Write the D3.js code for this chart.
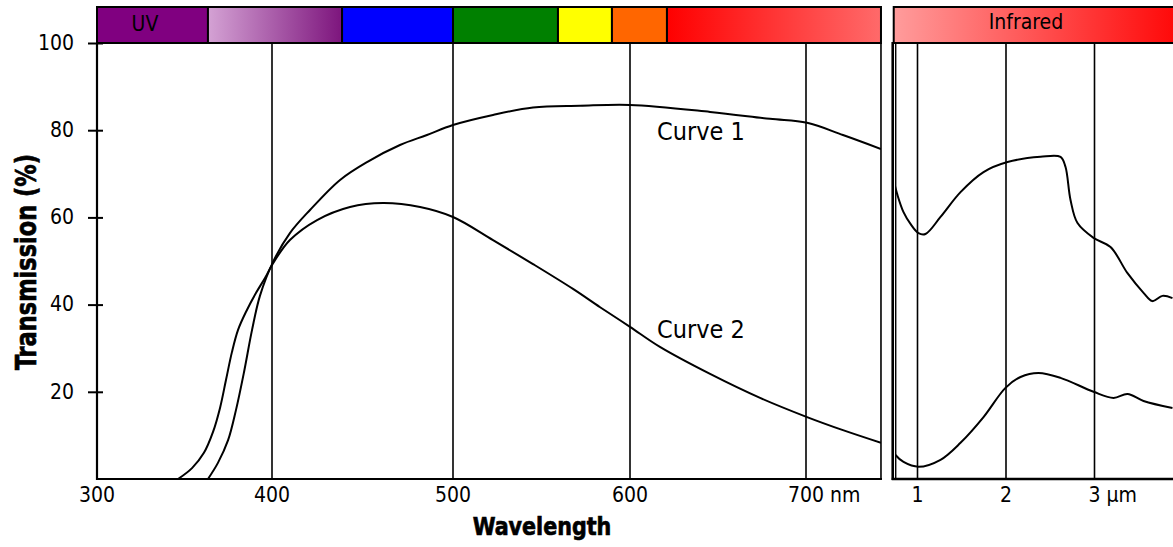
<!DOCTYPE html>
<html>
<head>
<meta charset="utf-8">
<script src="https://cdn.jsdelivr.net/npm/d3@7"></script>
<style>
  html, body { margin: 0; padding: 0; background: #fff; overflow: hidden; }
  svg { display: block; font-family: "DejaVu Sans Condensed", "DejaVu Sans", sans-serif; }
</style>
</head>
<body>
<svg id="chart" width="1173" height="547"></svg>
<script>
// ---- Visible range (nm) ----
const visWavelength = [363.4, 369.1, 374.9, 379.4, 384, 388.6, 393.1, 400.6, 409.9, 421, 437.6, 452.5, 470.7, 485.6, 500, 522.6, 545.2, 571.8, 600, 645.5, 679.5, 700.6, 721, 742.6];
const curve1Vis = [0, 3.7, 8.9, 15.8, 24.5, 34.2, 42.0, 49.8, 56.4, 61.7, 68.6, 72.7, 76.6, 78.9, 81.2, 83.5, 85.2, 85.6, 85.8, 84.2, 82.6, 81.7, 78.9, 75.7];

const visWavelength2 = [346.3, 354.3, 361.1, 366.3, 370.3, 373.7, 377.1, 380.6, 385.1, 390.9, 396, 400.6, 409.9, 424.9, 443.1, 461.3, 481.8, 500, 522.6, 545.2, 567.8, 583.1, 600, 617, 645.5, 673.9, 700.6, 721, 742.6];
const curve2Vis = [0, 2.5, 6.0, 10.8, 16.3, 22.7, 29.1, 34.2, 38.3, 42.7, 46.1, 49.5, 54.8, 59.4, 62.4, 63.3, 62.4, 60.1, 54.8, 49.3, 43.6, 39.4, 34.9, 30.3, 24.1, 18.6, 14.2, 11.2, 8.3];

// ---- Infrared range (µm) ----
const irWavelength1 = [0.729, 0.774, 0.842, 0.921, 1.011, 1.09, 1.26, 1.486, 1.746, 2.017, 2.39, 2.616, 2.672, 2.729, 2.808, 2.989, 3.181, 3.373, 3.554, 3.655, 3.768, 3.881];
const curve1IR = [68.6, 65.1, 61.2, 58.5, 56.4, 56.2, 60.1, 65.8, 70.4, 72.7, 73.9, 73.9, 71.6, 64.0, 58.7, 55.3, 53.2, 47.2, 42.7, 40.8, 42.0, 41.5];

const irWavelength2 = [0.72, 0.751, 0.842, 1.011, 1.26, 1.486, 1.746, 1.994, 2.164, 2.367, 2.616, 2.989, 3.215, 3.373, 3.554, 3.881];
const curve2IR = [6.5, 5.5, 3.9, 2.8, 4.4, 8.3, 14.2, 20.9, 23.4, 24.3, 23.2, 20.0, 18.6, 19.5, 17.9, 16.3];

// ---- Spectrum bands ----
const bandStart = [300, 363.4, 438.7, 500, 559.3, 589.8, 621];
const bandEnd   = [363.4, 438.7, 500, 559.3, 589.8, 621, 742.6];
const bandFill  = ["#800080", "url(#gViolet)", "#0000ff", "#008000", "#ffff00", "#ff6600", "url(#gRed)"];
const bandLabel = ["UV", "", "", "", "", "", ""];
const irBand = [0.72, 4.1];
const irBandLabel = "Infrared";

// ---- Ticks ----
const visTicks = [300, 400, 500, 600, 700];
const visTickUnit = ["", "", "", "", " nm"];
const visGrid = [400, 500, 600, 700];
const irTicks = [1, 2, 3];
const irTickUnit = ["", "", " µm"];
const yTicks = [20, 40, 60, 80, 100];
const curveNames = ["Curve 1", "Curve 2"];
const curveLabelAt = [[657, 77.8], [657, 32.3]];

const svg = d3.select("#chart");

const y = d3.scaleLinear().domain([0, 100]).range([479, 43]);
const xVis = d3.scaleLinear().domain([300, 400, 500, 600, 700]).range([97, 272, 453, 630, 806]);
const visEnd = 742.6;
const xIR = d3.scaleLinear().domain([1, 3]).range([917.5, 1094.5]);

// gradients
const defs = svg.append("defs");
function grad(id, c0, c1) {
  const g = defs.append("linearGradient").attr("id", id).attr("x1", "0").attr("x2", "1").attr("y1", "0").attr("y2", "0");
  g.append("stop").attr("offset", "0").attr("stop-color", c0);
  g.append("stop").attr("offset", "1").attr("stop-color", c1);
}
grad("gViolet", "#d4a2d4", "#7d157d");
grad("gRed", "#ff0000", "#ff6a6a");
grad("gIR", "#ff9c9c", "#ff0000");

defs.append("clipPath").attr("id", "clipVis").append("rect")
  .attr("x", xVis(300)).attr("y", 43).attr("width", xVis(visEnd) - xVis(300)).attr("height", 436);
defs.append("clipPath").attr("id", "clipIR").append("rect")
  .attr("x", xIR(irBand[0]) + 3).attr("y", 43).attr("width", 400).attr("height", 436);

const barTop = 7, barBottom = 43;

// ---- visible panel ----
// vertical grid lines
svg.append("g").selectAll("line").data(visGrid).join("line")
  .attr("x1", d => xVis(d)).attr("x2", d => xVis(d))
  .attr("y1", y(100)).attr("y2", y(0))
  .attr("stroke", "#000").attr("stroke-width", 1.6);

// right edge of the visible panel
svg.append("line")
  .attr("x1", xVis(visEnd)).attr("x2", xVis(visEnd))
  .attr("y1", y(100)).attr("y2", y(0))
  .attr("stroke", "#000").attr("stroke-width", 1.6);

// y axis
const yAxis = d3.axisLeft(y).tickValues(yTicks).tickSize(0).tickPadding(0);
const yg = svg.append("g").attr("transform", `translate(${xVis(300)},0)`).call(yAxis);
yg.select(".domain").remove();
yg.selectAll(".tick text").remove();
yg.selectAll(".tick").append("line").attr("x1", -9).attr("x2", 6).attr("stroke", "#000").attr("stroke-width", 2);
yg.selectAll(".tick").append("text")
  .attr("x", -23).attr("dy", "0.3em")
  .attr("text-anchor", "end").attr("fill", "#000")
  .style("font-size", "21px").style("font-family", "'DejaVu Sans Condensed', 'DejaVu Sans', sans-serif")
  .text(d => d);

svg.append("line").attr("x1", xVis(300)).attr("x2", xVis(300)).attr("y1", y(100)).attr("y2", y(0) + 1)
  .attr("stroke", "#000").attr("stroke-width", 2.2);
svg.append("line").attr("x1", xVis(300) - 1).attr("x2", xVis(visEnd) + 1).attr("y1", y(0)).attr("y2", y(0))
  .attr("stroke", "#000").attr("stroke-width", 2.2);

// x tick labels: the number is centred on its tick, any unit trails after it
function tickLabels(scale, values, units) {
  values.forEach((v, i) => {
    const t = svg.append("text")
      .attr("y", 502).attr("fill", "#000")
      .style("font-size", "21px");
    t.append("tspan").text(v);
    const numW = t.node().getComputedTextLength();
    if (units[i]) t.append("tspan").text(units[i]);
    t.attr("x", scale(v) - numW / 2);
  });
}
tickLabels(xVis, visTicks, visTickUnit);

// curves (visible)
const lineVis = d3.line().x(d => xVis(d[0])).y(d => y(d[1])).curve(d3.curveCatmullRom.alpha(0.5));
const gVis = svg.append("g").attr("clip-path", "url(#clipVis)");
gVis.append("path").datum(d3.zip(visWavelength, curve1Vis)).attr("d", lineVis)
  .attr("fill", "none").attr("stroke", "#000").attr("stroke-width", 2);
gVis.append("path").datum(d3.zip(visWavelength2, curve2Vis)).attr("d", lineVis)
  .attr("fill", "none").attr("stroke", "#000").attr("stroke-width", 2);

// spectrum band bar
const bands = bandStart.map((s, i) => ({ s, e: bandEnd[i], fill: bandFill[i], label: bandLabel[i] }));
svg.append("g").selectAll("rect").data(bands).join("rect")
  .attr("x", d => xVis(d.s)).attr("y", barTop)
  .attr("width", d => xVis(d.e) - xVis(d.s)).attr("height", barBottom - barTop)
  .attr("fill", d => d.fill).attr("stroke", "#000").attr("stroke-width", 2);
svg.append("g").selectAll("text").data(bands.filter(d => d.label)).join("text")
  .attr("x", d => (xVis(d.s) + xVis(d.e)) / 2 - 7.5).attr("y", 31)
  .attr("text-anchor", "middle").style("font-size", "21px").attr("fill", "#000")
  .text(d => d.label);

// curve labels
svg.append("g").selectAll("text").data(curveNames).join("text")
  .attr("x", (d, i) => curveLabelAt[i][0])
  .attr("y", (d, i) => y(curveLabelAt[i][1]))
  .style("font-size", "25px").attr("fill", "#000")
  .text(d => d);

// ---- infrared panel ----
const irLeft = xIR(irBand[0]);
svg.append("g").selectAll("line").data(irTicks).join("line")
  .attr("x1", d => xIR(d)).attr("x2", d => xIR(d))
  .attr("y1", y(100)).attr("y2", y(0))
  .attr("stroke", "#000").attr("stroke-width", 1.6);
svg.append("line").attr("x1", irLeft).attr("x2", irLeft).attr("y1", y(100) - 1).attr("y2", y(0) + 1)
  .attr("stroke", "#000").attr("stroke-width", 2.6);
svg.append("line").attr("x1", irLeft + 3).attr("x2", irLeft + 3).attr("y1", y(100)).attr("y2", y(0))
  .attr("stroke", "#000").attr("stroke-width", 1.4);
svg.append("line").attr("x1", irLeft - 1).attr("x2", 1173).attr("y1", y(0)).attr("y2", y(0))
  .attr("stroke", "#000").attr("stroke-width", 2.6);

tickLabels(xIR, irTicks, irTickUnit);

const lineIR = d3.line().x(d => xIR(d[0])).y(d => y(d[1])).curve(d3.curveCatmullRom.alpha(0.5));
const gIR = svg.append("g").attr("clip-path", "url(#clipIR)");
gIR.append("path").datum(d3.zip(irWavelength1, curve1IR)).attr("d", lineIR)
  .attr("fill", "none").attr("stroke", "#000").attr("stroke-width", 2);
gIR.append("path").datum(d3.zip(irWavelength2, curve2IR)).attr("d", lineIR)
  .attr("fill", "none").attr("stroke", "#000").attr("stroke-width", 2);

svg.append("rect")
  .attr("x", xIR(irBand[0]) + 1).attr("y", barTop)
  .attr("width", xIR(irBand[1]) - xIR(irBand[0])).attr("height", barBottom - barTop)
  .attr("fill", "url(#gIR)").attr("stroke", "#000").attr("stroke-width", 2);
svg.append("text")
  .attr("x", 1026).attr("y", 29).attr("text-anchor", "middle")
  .style("font-size", "21px").attr("fill", "#000")
  .text(irBandLabel);

// ---- axis titles (heavy, slightly tall) ----
svg.append("text")
  .attr("transform", "translate(36,262) rotate(-90) scale(1,1.12)")
  .attr("text-anchor", "middle")
  .style("font-size", "25px").style("font-weight", "bold").attr("fill", "#000")
  .attr("stroke", "#000").attr("stroke-width", 0.6)
  .text("Transmission (%)");
svg.append("text")
  .attr("transform", "translate(542,535) scale(1,1.1)")
  .attr("text-anchor", "middle")
  .style("font-size", "23px").style("font-weight", "bold").attr("fill", "#000")
  .attr("stroke", "#000").attr("stroke-width", 0.6)
  .text("Wavelength");
</script>
</body>
</html>
